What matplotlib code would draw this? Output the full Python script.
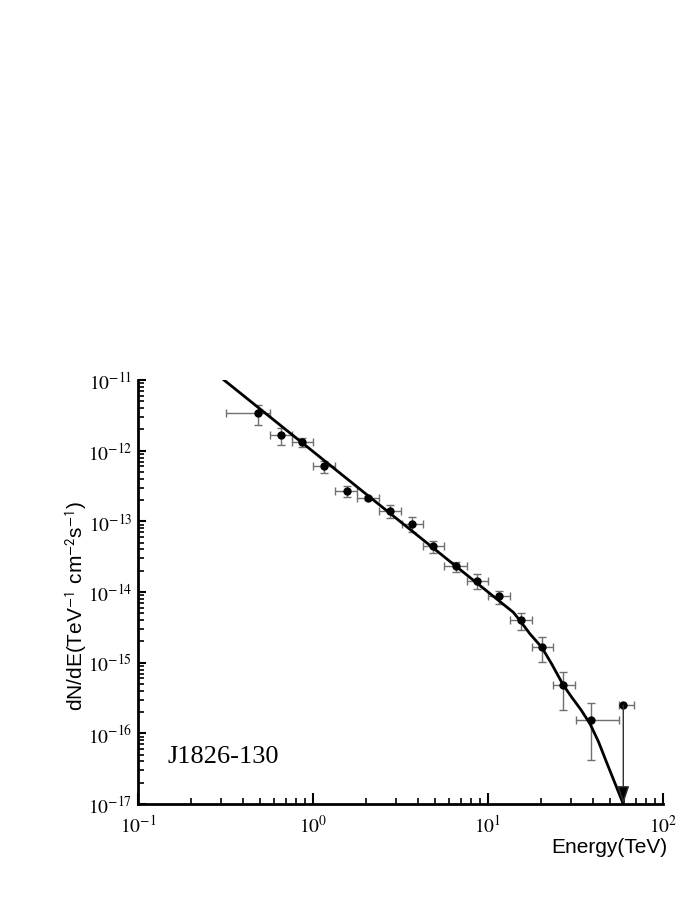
import matplotlib
matplotlib.use("Agg")
import matplotlib.pyplot as plt
import numpy as np
from matplotlib.ticker import LogLocator, NullFormatter, FuncFormatter

plt.rcParams['mathtext.fontset'] = 'stix'

# ---- data points (energy in TeV, flux in TeV^-1 cm^-2 s^-1) ----
energy = [0.487, 0.656, 0.869, 1.16, 1.56, 2.07, 2.75, 3.66, 4.87, 6.57,
          8.69, 11.6, 15.4, 20.4, 26.9, 38.6]
e_low = [0.318, 0.568, 0.755, 1.004, 1.341, 1.791, 2.383, 3.21, 4.24, 5.63,
         7.55, 10.04, 13.36, 17.77, 23.6, 31.7]
e_high = [0.568, 0.755, 1.004, 1.341, 1.791, 2.383, 3.18, 4.24, 5.63, 7.55,
          10.04, 13.36, 17.77, 23.6, 31.4, 56.1]
flux = [3.38e-12, 1.68e-12, 1.31e-12, 6.0e-13, 2.66e-13, 2.12e-13, 1.42e-13,
        9.2e-14, 4.43e-14, 2.31e-14, 1.44e-14, 8.7e-15, 4.0e-15, 1.65e-15,
        4.83e-16, 1.55e-16]
f_low = [2.31e-12, 1.215e-12, 1.116e-12, 4.88e-13, 2.23e-13, 1.98e-13, 1.115e-13,
         7.0e-14, 3.53e-14, 1.90e-14, 1.10e-14, 6.77e-15, 2.90e-15, 1.01e-15,
         2.14e-16, 4.24e-17]
f_high = [4.47e-12, 2.09e-12, 1.51e-12, 7.08e-13, 3.13e-13, 2.25e-13, 1.70e-13,
          1.14e-13, 5.32e-14, 2.69e-14, 1.80e-14, 1.045e-14, 5.0e-15, 2.29e-15,
          7.44e-16, 2.66e-16]

# upper limit point
ul_energy = 59.3
ul_e_low = 56.1
ul_e_high = 68.2
ul_flux = 2.52e-16
ul_floor = 1e-17

# model curve nodes
curve_e = [0.31, 13.95, 15.24, 17.38, 20.28, 23.12, 26.9, 30.1, 34.0, 38.3, 42.8, 47.6, 59.3]
curve_f = [1.0e-11, 5.16e-15, 3.93e-15, 2.55e-15, 1.65e-15, 9.58e-16, 4.83e-16,
           3.24e-16, 2.15e-16, 1.36e-16, 7.6e-17, 3.89e-17, 1.0e-17]

x_ticks = [0.1, 1, 10, 100]
y_ticks = [1e-17, 1e-16, 1e-15, 1e-14, 1e-13, 1e-12, 1e-11]

fig = plt.figure(figsize=(6.98, 9.03), dpi=100)
ax = fig.add_axes([138/698, 1 - 805/903, (663-138)/698, (805-381)/903])

E = np.array(energy)
F = np.array(flux)
xerr = [E - np.array(e_low), np.array(e_high) - E]
yerr = [F - np.array(f_low), np.array(f_high) - F]

ax.errorbar(E, F, xerr=xerr, yerr=yerr, fmt='none', ecolor='#707070',
            elinewidth=1.0, capsize=3, capthick=1.0, zorder=2)
ax.plot(E, F, 'o', color='black', markersize=5, zorder=4)

# curve
ax.plot(curve_e, curve_f, color='black', linewidth=2.0, zorder=3,
        solid_joinstyle='round')

# upper limit
ax.errorbar([ul_energy], [ul_flux], xerr=[[ul_energy - ul_e_low], [ul_e_high - ul_energy]],
            fmt='none', ecolor='#707070', elinewidth=1.0, capsize=3, capthick=1.0, zorder=2)
ax.plot([ul_energy], [ul_flux], 'o', color='black', markersize=5, zorder=4)
ax.annotate('', xy=(ul_energy, ul_floor), xytext=(ul_energy, ul_flux),
            arrowprops=dict(arrowstyle='-|>,head_length=0.9,head_width=0.3',
                            color='#303030', lw=1.0, shrinkA=0, shrinkB=0,
                            mutation_scale=12, fc='black'),
            annotation_clip=False, zorder=5)

ax.set_xscale('log')
ax.set_yscale('log')
ax.set_xlim(x_ticks[0], x_ticks[-1])
ax.set_ylim(y_ticks[0], y_ticks[-1])
ax.set_xticks(x_ticks)
ax.set_yticks(y_ticks)
ax.xaxis.set_minor_locator(LogLocator(base=10, subs=np.arange(2, 10), numticks=20))
ax.yaxis.set_minor_locator(LogLocator(base=10, subs=np.arange(2, 10), numticks=20))
ax.xaxis.set_minor_formatter(NullFormatter())
ax.yaxis.set_minor_formatter(NullFormatter())
fmt = FuncFormatter(lambda v, p: r'$10^{%d}$' % int(round(np.log10(v))))
ax.xaxis.set_major_formatter(fmt)
ax.yaxis.set_major_formatter(fmt)

for s in ['top', 'right']:
    ax.spines[s].set_visible(False)
for s in ['left', 'bottom']:
    ax.spines[s].set_linewidth(2.0)

ax.tick_params(axis='both', which='major', direction='in', length=8, width=1.5,
               labelsize=14, pad=7)
ax.tick_params(axis='both', which='minor', direction='in', length=4, width=1.2)
ax.tick_params(axis='y', which='major', length=6, pad=4)

ax.set_ylabel(r'dN/dE(TeV$^{\mathsf{-1}}$ cm$^{\mathsf{-2}}$s$^{\mathsf{-1}}$)',
              fontsize=15, family='Liberation Sans')
ax.yaxis.set_label_coords(-0.093, 0.47)
ax.set_xlabel('Energy(TeV)', fontsize=15, family='Liberation Sans', loc='right')
ax.xaxis.set_label_coords(1.008, -0.077)

ax.text(168/698, 1 - 757/903, 'J1826-130', transform=fig.transFigure,
        fontsize=19, family='Liberation Serif', va='center', ha='left')

fig.savefig('out.png', dpi=100)
